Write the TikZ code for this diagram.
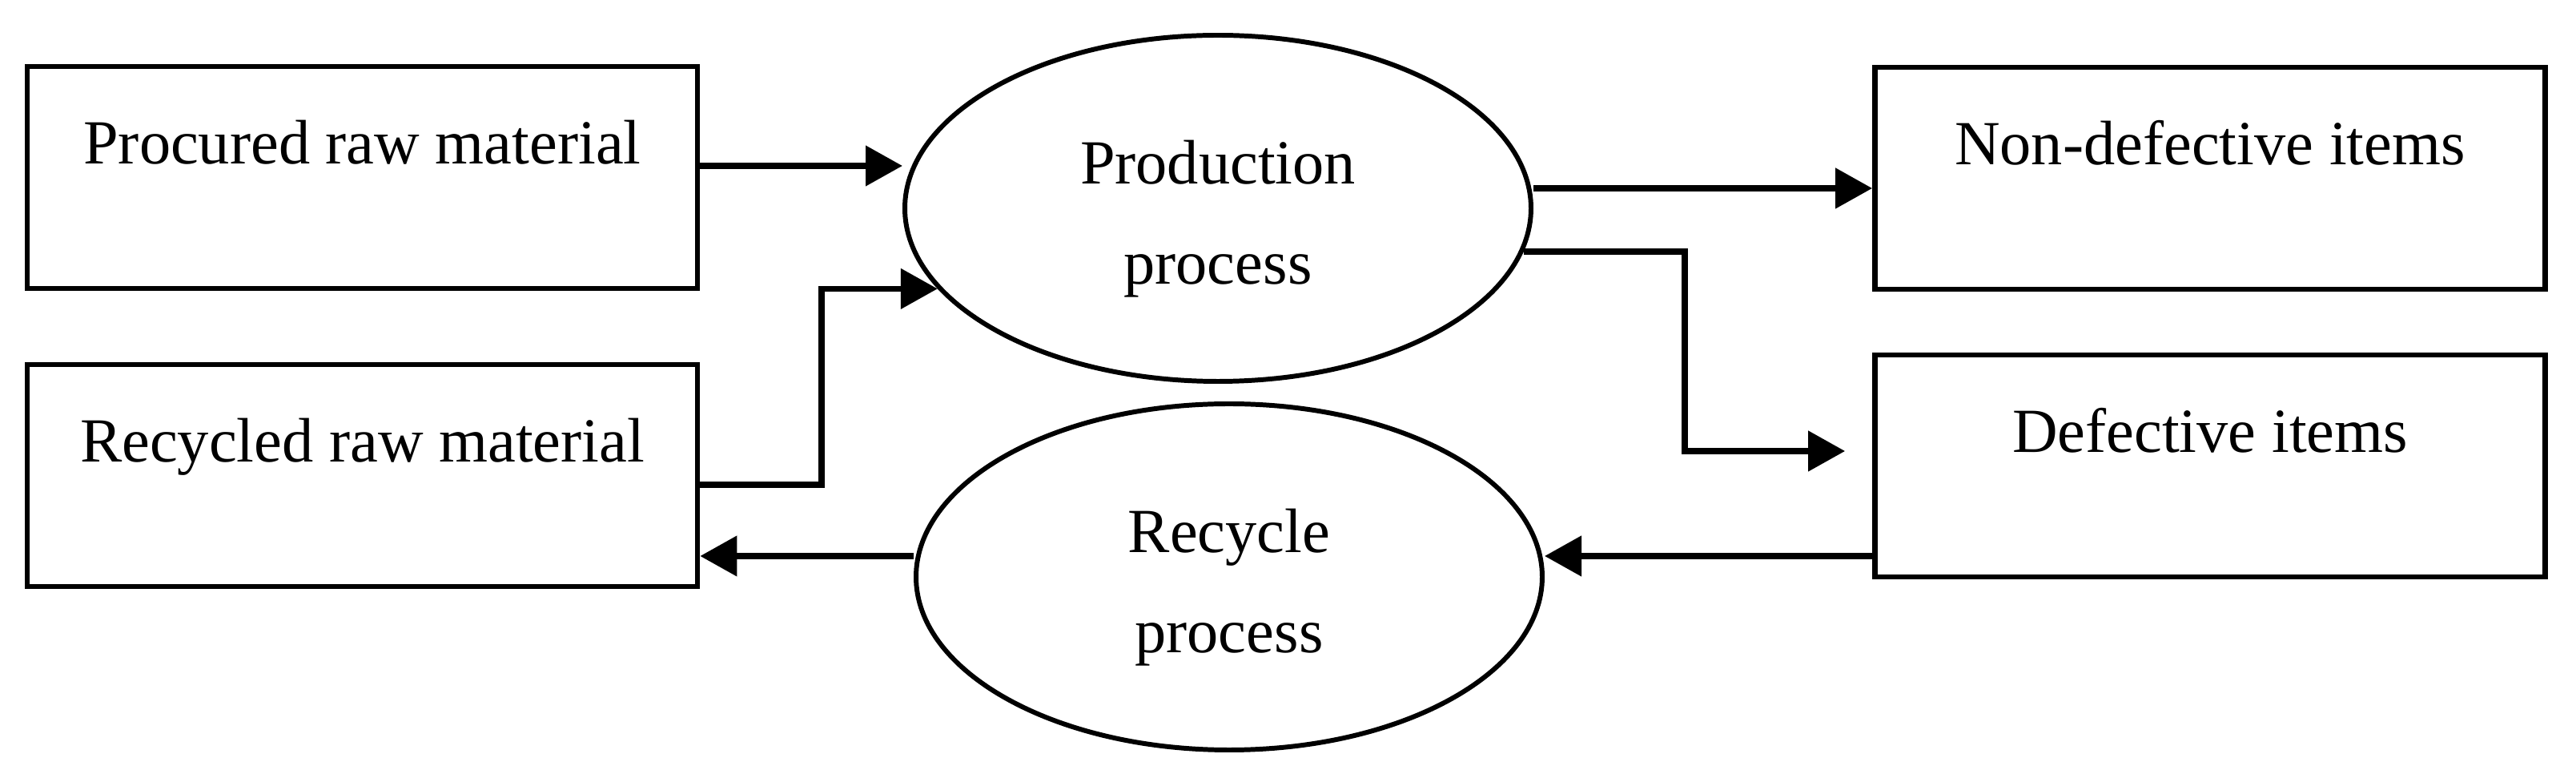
\documentclass[tikz,border=0pt]{standalone}
\usepackage{fontspec}
\setmainfont{Liberation Serif}
\usetikzlibrary{shapes.geometric,arrows.meta}
\begin{document}
\begin{tikzpicture}[font=\fontsize{22.3pt}{35.5pt}\selectfont,
    item/.style={draw=black, line width=1.9pt, inner sep=0, minimum width=8.37cm, minimum height=2.77cm, text height=1.22cm, text depth=1.55cm},
    stage/.style={draw=black, line width=1.7pt, shape=ellipse, inner sep=0, minimum width=7.82cm, minimum height=4.32cm, align=center},
    flow/.style={black, line width=2.2pt, -{Triangle[length=0.46cm, width=0.49cm]}}
  ]
      \useasboundingbox (0,0) rectangle (32.17,9.61);
      %
      \node [item] (proc) at (4.525, 7.395) {Procured raw material};
      \node [item] (rec) at (4.525, 3.675) {Recycled raw material};
      \node [item] (good) at (27.60, 7.385) {Non-defective items};
      \node [item] (def) at (27.60, 3.795) {Defective items};
      %
      \node [stage] (prod) at (15.21, 7.01) {\rule{0pt}{0.8cm}Production\\process};
      \node [stage] (rcy) at (15.35, 2.41) {\rule{0pt}{0.8cm}Recycle\\process};
      %
      \coordinate (a1) at ([yshift=0.145cm]proc.east);
      \coordinate (a2) at ([yshift=-0.115cm]rec.east);
      \coordinate (a3) at ([yshift=0.26cm]rcy.west);
      \coordinate (a4) at ([yshift=0.25cm]prod.east);
      \coordinate (a5) at ([xshift=-0.34cm, yshift=0.185cm]def.west);
      \coordinate (a6) at ([yshift=-1.125cm]def.west);
      %
      \draw [flow] (a1) -- (a1 -| prod.west);
      \draw [flow] (a2) -- ++(1.52,0) |- (prod.196);
      \draw [flow] (a3) -- (a3 -| rec.east);
      \draw [flow] (a4) -- (a4 -| good.west);
      \draw [flow] (prod.-8) -| ([xshift=-2.0cm]a5) -- (a5);
      \draw [flow] (a6) -- (a6 -| rcy.east);
      %
\end{tikzpicture}
\end{document}
